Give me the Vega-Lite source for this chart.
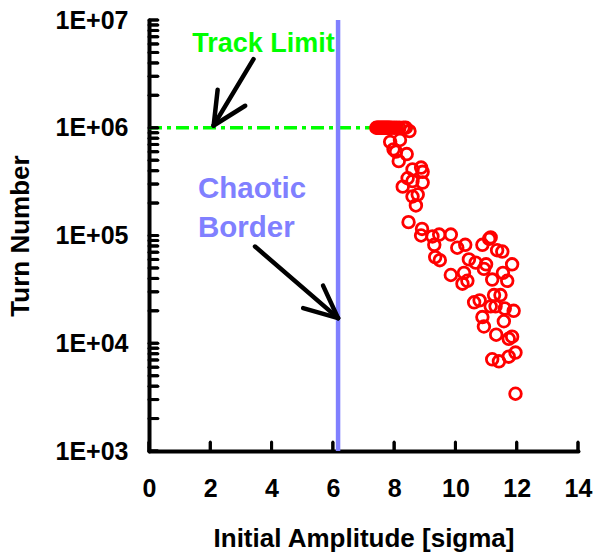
{
  "$schema": "https://vega.github.io/schema/vega-lite/v6.json",
  "width": 429,
  "height": 431,
  "autosize": {"type": "none"},
  "padding": {"left": 149, "top": 20, "right": 17, "bottom": 101},
  "background": "white",
  "config": {
    "view": {"stroke": null},
    "font": "Liberation Sans",
    "axis": {
      "grid": false,
      "domainColor": "black",
      "domainWidth": 4,
      "domainCap": "round",
      "ticks": false,
      "tickSize": 0,
      "labelFont": "Liberation Sans",
      "labelFontWeight": "bold",
      "labelFontSize": 25,
      "labelColor": "black",
      "labelOverlap": false,
      "labelFlush": false,
      "titleFont": "Liberation Sans",
      "titleFontWeight": "bold",
      "titleFontSize": 26,
      "titleColor": "black"
    }
  },
  "datasets": {
    "points": [
      {"amp": 7.42, "turns": 1000000}, {"amp": 7.46, "turns": 1000000}, {"amp": 7.50, "turns": 1000000},
      {"amp": 7.54, "turns": 1000000}, {"amp": 7.58, "turns": 1000000}, {"amp": 7.62, "turns": 1000000},
      {"amp": 7.66, "turns": 1000000}, {"amp": 7.70, "turns": 1000000}, {"amp": 7.74, "turns": 1000000},
      {"amp": 7.78, "turns": 1000000}, {"amp": 7.82, "turns": 1000000}, {"amp": 7.86, "turns": 1000000},
      {"amp": 7.92, "turns": 1000000}, {"amp": 8.00, "turns": 1000000}, {"amp": 8.08, "turns": 1000000},
      {"amp": 8.17, "turns": 1000000}, {"amp": 8.30, "turns": 1000000}, {"amp": 8.38, "turns": 1000000},
      {"amp": 8.50, "turns": 930000}, {"amp": 8.19, "turns": 770000}, {"amp": 7.87, "turns": 740000},
      {"amp": 7.98, "turns": 630000}, {"amp": 8.06, "turns": 600000}, {"amp": 8.41, "turns": 570000},
      {"amp": 8.15, "turns": 490000}, {"amp": 8.88, "turns": 427000}, {"amp": 8.60, "turns": 410000},
      {"amp": 8.93, "turns": 390000}, {"amp": 8.44, "turns": 340000}, {"amp": 8.60, "turns": 320000},
      {"amp": 8.93, "turns": 310000}, {"amp": 8.28, "turns": 284000}, {"amp": 8.77, "turns": 240000},
      {"amp": 8.60, "turns": 230000}, {"amp": 8.71, "turns": 190000}, {"amp": 8.47, "turns": 133000},
      {"amp": 8.91, "turns": 115000}, {"amp": 9.47, "turns": 102000}, {"amp": 9.85, "turns": 102000},
      {"amp": 9.25, "turns": 98000}, {"amp": 11.15, "turns": 96000}, {"amp": 8.88, "turns": 100000},
      {"amp": 9.31, "turns": 82000}, {"amp": 10.06, "turns": 77000}, {"amp": 10.32, "turns": 82000},
      {"amp": 11.10, "turns": 93000}, {"amp": 10.88, "turns": 82000}, {"amp": 11.36, "turns": 73000},
      {"amp": 11.53, "turns": 71000}, {"amp": 9.34, "turns": 63000}, {"amp": 9.49, "turns": 59000},
      {"amp": 10.44, "turns": 60000}, {"amp": 10.66, "turns": 56000}, {"amp": 11.00, "turns": 54000},
      {"amp": 11.85, "turns": 54000}, {"amp": 10.93, "turns": 49000}, {"amp": 9.85, "turns": 43000},
      {"amp": 10.28, "turns": 45000}, {"amp": 10.39, "turns": 38000}, {"amp": 10.23, "turns": 35700},
      {"amp": 11.20, "turns": 39000}, {"amp": 11.55, "turns": 45000}, {"amp": 11.69, "turns": 38000},
      {"amp": 11.26, "turns": 28000}, {"amp": 11.47, "turns": 28000}, {"amp": 10.61, "turns": 24000},
      {"amp": 10.79, "turns": 25000}, {"amp": 11.15, "turns": 22000}, {"amp": 11.31, "turns": 22000},
      {"amp": 11.61, "turns": 21000}, {"amp": 11.90, "turns": 20000}, {"amp": 10.88, "turns": 17500},
      {"amp": 10.93, "turns": 14300}, {"amp": 11.58, "turns": 16000}, {"amp": 11.33, "turns": 12000},
      {"amp": 11.74, "turns": 11000}, {"amp": 11.85, "turns": 11500}, {"amp": 11.20, "turns": 7100},
      {"amp": 11.42, "turns": 6800}, {"amp": 11.74, "turns": 7500}, {"amp": 11.96, "turns": 8200},
      {"amp": 11.96, "turns": 3400}
    ],
    "yTicks": [
      {"v": 1000}, {"v": 2000}, {"v": 3000}, {"v": 4000}, {"v": 5000}, {"v": 6000}, {"v": 7000}, {"v": 8000}, {"v": 9000},
      {"v": 10000}, {"v": 20000}, {"v": 30000}, {"v": 40000}, {"v": 50000}, {"v": 60000}, {"v": 70000}, {"v": 80000}, {"v": 90000},
      {"v": 100000}, {"v": 200000}, {"v": 300000}, {"v": 400000}, {"v": 500000}, {"v": 600000}, {"v": 700000}, {"v": 800000}, {"v": 900000},
      {"v": 1000000}, {"v": 2000000}, {"v": 3000000}, {"v": 4000000}, {"v": 5000000}, {"v": 6000000}, {"v": 7000000}, {"v": 8000000}, {"v": 9000000},
      {"v": 10000000}
    ],
    "xTicks": [{"v": 0}, {"v": 2}, {"v": 4}, {"v": 6}, {"v": 8}, {"v": 10}, {"v": 12}, {"v": 14}],
    "trackLimit": [{"x0": 0, "x1": 8.8, "turns": 1000000}],
    "border": [{"amp": 6.17}],
    "arrows": [
      {"x": 3.41, "y": 4340000, "x2": 2.11, "y2": 1050000},
      {"x": 2.11, "y": 1050000, "x2": 2.24, "y2": 2250000},
      {"x": 2.11, "y": 1050000, "x2": 3.14, "y2": 1600000},
      {"x": 3.46, "y": 79000, "x2": 6.17, "y2": 17100},
      {"x": 6.17, "y": 17100, "x2": 5.03, "y2": 21200},
      {"x": 6.17, "y": 17100, "x2": 5.68, "y2": 34300}
    ],
    "trackText": [{"label": "Track Limit", "x": 1.41, "y": 5010000}],
    "chaosText": [
      {"label": "Chaotic", "x": 1.60, "y": 224000},
      {"label": "Border", "x": 1.60, "y": 97300}
    ]
  },
  "layer": [
    {
      "data": {"name": "trackLimit"},
      "mark": {"type": "rule", "color": "#00FF00", "strokeWidth": 3.3, "strokeDash": [13, 5, 4, 5]},
      "encoding": {
        "x": {"field": "x0", "type": "quantitative", "scale": {"domain": [0, 14], "nice": false},
              "axis": {"values": [0, 2, 4, 6, 8, 10, 12, 14], "title": "Initial Amplitude [sigma]",
                       "labelPadding": 25, "titlePadding": 24}},
        "x2": {"field": "x1"},
        "y": {"field": "turns", "type": "quantitative",
              "scale": {"type": "log", "domain": [1000, 10000000], "nice": false},
              "axis": {
                "values": [1000, 10000, 100000, 1000000, 10000000],
                "labelExpr": "'1E+0' + round(log(datum.value)/LN10)",
                "title": "Turn Number",
                "labelPadding": 21,
                "titlePadding": 22
              }}
      }
    },
    {
      "data": {"name": "yTicks"},
      "mark": {"type": "rule", "color": "black", "strokeWidth": 3, "strokeCap": "round"},
      "encoding": {
        "y": {"field": "v", "type": "quantitative"},
        "x": {"datum": 0, "type": "quantitative"},
        "x2": {"datum": 0.29}
      }
    },
    {
      "data": {"name": "yTicks"},
      "mark": {"type": "tick", "color": "black", "orient": "horizontal", "size": 9, "thickness": 3, "opacity": 1},
      "encoding": {
        "y": {"field": "v", "type": "quantitative"},
        "x": {"datum": 0.146, "type": "quantitative"}
      }
    },
    {
      "data": {"name": "xTicks"},
      "mark": {"type": "rule", "color": "black", "strokeWidth": 3, "strokeCap": "round"},
      "encoding": {
        "x": {"field": "v", "type": "quantitative"},
        "y": {"datum": 1000, "type": "quantitative"},
        "y2": {"datum": 1213}
      }
    },
    {
      "data": {"name": "xTicks"},
      "mark": {"type": "tick", "color": "black", "orient": "vertical", "size": 9, "thickness": 3, "opacity": 1},
      "encoding": {
        "x": {"field": "v", "type": "quantitative"},
        "y": {"datum": 1101, "type": "quantitative"}
      }
    },
    {
      "data": {"name": "border"},
      "mark": {"type": "rule", "color": "#8080FF", "strokeWidth": 4.5},
      "encoding": {"x": {"field": "amp", "type": "quantitative"}}
    },
    {
      "data": {"name": "points"},
      "mark": {"type": "point", "shape": "circle", "filled": false, "color": "#FF0000", "strokeWidth": 2.8, "size": 135, "opacity": 1},
      "encoding": {
        "x": {"field": "amp", "type": "quantitative"},
        "y": {"field": "turns", "type": "quantitative"}
      }
    },
    {
      "data": {"name": "arrows"},
      "mark": {"type": "rule", "color": "black", "strokeWidth": 4.5, "strokeCap": "round"},
      "encoding": {
        "x": {"field": "x", "type": "quantitative"},
        "y": {"field": "y", "type": "quantitative"},
        "x2": {"field": "x2"},
        "y2": {"field": "y2"}
      }
    },
    {
      "data": {"name": "trackText"},
      "mark": {"type": "text", "color": "#00FF00", "fontSize": 27, "fontWeight": "bold", "font": "Liberation Sans", "align": "left", "baseline": "alphabetic"},
      "encoding": {
        "x": {"field": "x", "type": "quantitative"},
        "y": {"field": "y", "type": "quantitative"},
        "text": {"field": "label"}
      }
    },
    {
      "data": {"name": "chaosText"},
      "mark": {"type": "text", "color": "#8080FF", "fontSize": 29.5, "fontWeight": "bold", "font": "Liberation Sans", "align": "left", "baseline": "alphabetic"},
      "encoding": {
        "x": {"field": "x", "type": "quantitative"},
        "y": {"field": "y", "type": "quantitative"},
        "text": {"field": "label"}
      }
    }
  ]
}
